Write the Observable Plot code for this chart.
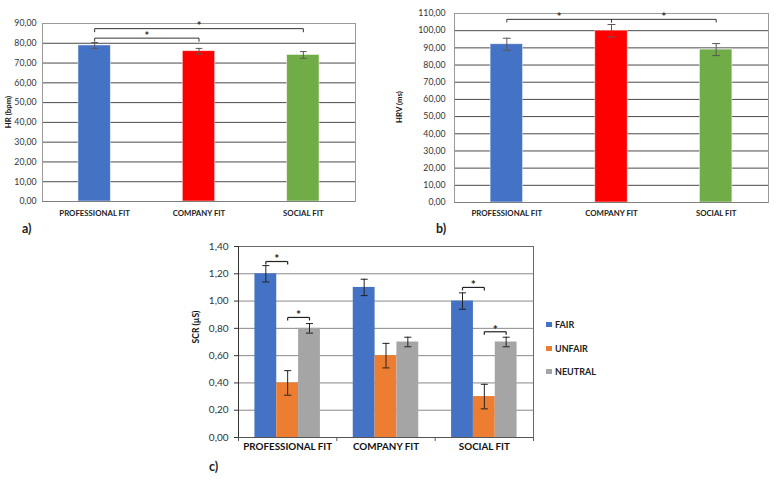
<!DOCTYPE html>
<html><head><meta charset="utf-8">
<script src="https://cdn.jsdelivr.net/npm/d3@7"></script>
<script src="https://cdn.jsdelivr.net/npm/@observablehq/plot@0.6"></script>
<style>
body{margin:0;background:#fff;font-family:Lato,"Open Sans",sans-serif;}
#root{position:relative;width:777px;height:480px;overflow:hidden;background:#fff;}
#root svg{position:absolute;}
.ytitle{position:absolute;font-weight:bold;color:#111;transform:translate(-50%,-50%) rotate(-90deg);white-space:nowrap;line-height:1;}
.plabel{position:absolute;font-weight:bold;font-size:12.5px;color:#222;line-height:1;}
.leg{position:absolute;font-weight:bold;font-size:9px;color:#222;line-height:1;white-space:nowrap;}
.leg span{display:inline-block;width:6px;height:5px;margin-right:3px;vertical-align:1px;}
</style></head><body><div id="root"></div>
<script>
// ---- data ----
const fitCategories = ["PROFESSIONAL FIT", "COMPANY FIT", "SOCIAL FIT"];
const fitColors = ["#4472C4", "#FF0000", "#70AD47"];

const hrValues = [78.9, 76.0, 74.1];
const hrErrors = [1.5, 1.4, 1.7];
const hrTicks = [0, 10, 20, 30, 40, 50, 60, 70, 80, 90];
const hrBrackets = [{from: 0, to: 2, level: 87.4}, {from: 0, to: 1, level: 82.6}];

const hrvValues = [92.1, 100.0, 89.0];
const hrvErrors = [3.5, 3.6, 3.5];
const hrvTicks = [0, 10, 20, 30, 40, 50, 60, 70, 80, 90, 100, 110];
const hrvBrackets = [{from: 0, to: 1, level: 106.6}, {from: 1, to: 2, level: 106.6}];

const conditions = ["FAIR", "UNFAIR", "NEUTRAL"];
const conditionColors = ["#4472C4", "#ED7D31", "#A5A5A5"];
const scrFair = [1.20, 1.10, 1.00];
const scrFairErr = [0.06, 0.06, 0.06];
const scrUnfair = [0.40, 0.60, 0.30];
const scrUnfairErr = [0.09, 0.09, 0.09];
const scrNeutral = [0.80, 0.70, 0.70];
const scrNeutralErr = [0.035, 0.035, 0.035];
const scrTicks = [0, 0.2, 0.4, 0.6, 0.8, 1.0, 1.2, 1.4];
const scrBrackets = [
  {group: 0, from: 0, to: 1, level: 1.29},
  {group: 0, from: 1, to: 2, level: 0.88},
  {group: 2, from: 0, to: 1, level: 1.10},
  {group: 2, from: 1, to: 2, level: 0.775}
];

// ---- helpers ----
const fmt = v => d3.format(".2f")(v).replace(".", ",");
const root = document.getElementById("root");

function place(el, left, top) { el.style.left = left + "px"; el.style.top = top + "px"; root.appendChild(el); return el; }
function div(cls, text, left, top, extra = {}) {
  const d = document.createElement("div"); d.className = cls; d.textContent = text;
  Object.assign(d.style, extra); return place(d, left, top);
}

function barPanel(o) {
  const rows = fitCategories.map((c, i) => ({i, v: o.values[i], lo: o.values[i] - o.errors[i], hi: o.values[i] + o.errors[i], color: fitColors[i]}));
  const caps = rows.flatMap(d => [{i: d.i, y: d.lo}, {i: d.i, y: d.hi}]);
  const half = (1 - o.barFrac) / 2;
  const ends = o.brackets.flatMap(b => [{x: b.from + 0.5, level: b.level}, {x: b.to + 0.5, level: b.level}]);
  return Plot.plot({
    width: o.width, height: o.height,
    marginLeft: o.mL, marginRight: o.mR, marginTop: o.mT, marginBottom: o.mB,
    style: {fontFamily: "Lato", background: "transparent", overflow: "visible"},
    x: {domain: [0, 3], axis: null},
    y: {domain: [0, o.yMax], axis: null},
    color: {type: "identity"},
    marks: [
      Plot.ruleY(o.ticks, {stroke: "#4a4a4a", strokeWidth: 1}),
      Plot.rectY(rows, {x1: d => d.i + half, x2: d => d.i + 1 - half, y1: 0, y2: "v", fill: "color", stroke: "#ffffff", strokeOpacity: 0.6, strokeWidth: 0.8}),
      Plot.frame({stroke: "#9a9a9a"}),
      Plot.ruleY([0], {stroke: "#7f7f7f"}),
      Plot.ruleX(rows, {x: d => d.i + 0.5, y1: "lo", y2: "hi", stroke: "#5a5a5a", strokeWidth: 1}),
      Plot.link(caps, {x1: d => d.i + 0.5 - o.cap, x2: d => d.i + 0.5 + o.cap, y1: "y", y2: "y", stroke: "#5a5a5a"}),
      Plot.link(o.brackets, {x1: d => d.from + 0.5, x2: d => d.to + 0.5, y1: "level", y2: "level", stroke: "#333", strokeWidth: 1}),
      Plot.link(ends, {x1: "x", x2: "x", y1: "level", y2: d => d.level - o.drop, stroke: "#333", strokeWidth: 1}),
      Plot.text(o.brackets, {x: d => (d.from + d.to) / 2 + 0.5, y: "level", text: () => "*", dy: -2, fontSize: 11, fontWeight: "bold", fill: "#333"}),
      Plot.axisY(o.ticks, {tickSize: 0, tickPadding: o.yPad, tickFormat: fmt, fontSize: o.yFont, color: "#333", label: null}),
      Plot.axisX([0.5, 1.5, 2.5], {tickSize: 0, tickPadding: o.xPad, tickFormat: v => fitCategories[Math.floor(v)], fontSize: o.xFont, fontWeight: "bold", color: "#222", label: null})
    ]
  });
}

// ---- panel a ----
const svgA = barPanel({values: hrValues, errors: hrErrors, ticks: hrTicks, yMax: 90, brackets: hrBrackets,
  width: 385, height: 222, mL: 42, mR: 30, mT: 23, mB: 21, barFrac: 0.31, cap: 0.032, drop: 1.8,
  yPad: 6, yFont: 8.7, xPad: 9, xFont: 7.8});
place(svgA, 0, 0);
div("ytitle", "HR (bpm)", 9, 112, {fontSize: "7.8px"});
div("plabel", "a)", 22, 223);

// ---- panel b ----
const svgB = barPanel({values: hrvValues, errors: hrvErrors, ticks: hrvTicks, yMax: 110, brackets: hrvBrackets,
  width: 387, height: 222, mL: 64, mR: 9, mT: 13, mB: 20, barFrac: 0.31, cap: 0.038, drop: 1.8,
  yPad: 9, yFont: 8.7, xPad: 8, xFont: 7.8});
place(svgB, 390, 0);
div("ytitle", "HRV (ms)", 400, 107, {fontSize: "7.8px"});
div("plabel", "b)", 436, 223);

// ---- panel c ----
const scrValues = [scrFair, scrUnfair, scrNeutral];
const scrErrors = [scrFairErr, scrUnfairErr, scrNeutralErr];
const groupPad = 0.167, barW = 0.222;
const cx = (g, c) => g + groupPad + (c + 0.5) * barW;
const scrRows = fitCategories.flatMap((g, gi) => conditions.map((c, ci) => ({
  gi, ci, v: scrValues[ci][gi], lo: scrValues[ci][gi] - scrErrors[ci][gi], hi: scrValues[ci][gi] + scrErrors[ci][gi], color: conditionColors[ci]
})));
const scrCaps = scrRows.flatMap(d => [{gi: d.gi, ci: d.ci, y: d.lo}, {gi: d.gi, ci: d.ci, y: d.hi}]);
const scrEnds = scrBrackets.flatMap(b => [{x: cx(b.group, b.from), level: b.level}, {x: cx(b.group, b.to), level: b.level}]);
const svgC = Plot.plot({
  width: 340, height: 226, marginLeft: 38, marginRight: 7, marginTop: 12, marginBottom: 23,
  style: {fontFamily: "Lato", background: "transparent", overflow: "visible"},
  x: {domain: [0, 3], axis: null},
  y: {domain: [0, 1.4], axis: null},
  color: {type: "identity"},
  marks: [
    Plot.ruleY(scrTicks, {stroke: "#8a8a8a", strokeWidth: 1}),
    Plot.rectY(scrRows, {x1: d => d.gi + groupPad + d.ci * barW, x2: d => d.gi + groupPad + (d.ci + 1) * barW, y1: 0, y2: "v", fill: "color"}),
    Plot.frame({stroke: "#6a6a6a"}),
    Plot.ruleX([0], {stroke: "#333"}),
    Plot.ruleY([0], {stroke: "#555"}),
    Plot.ruleX(scrRows, {x: d => cx(d.gi, d.ci), y1: "lo", y2: "hi", stroke: "#222", strokeWidth: 1}),
    Plot.link(scrCaps, {x1: d => cx(d.gi, d.ci) - 0.036, x2: d => cx(d.gi, d.ci) + 0.036, y1: "y", y2: "y", stroke: "#222"}),
    Plot.link(scrBrackets, {x1: d => cx(d.group, d.from), x2: d => cx(d.group, d.to), y1: "level", y2: "level", stroke: "#222", strokeWidth: 1.2}),
    Plot.link(scrEnds, {x1: "x", x2: "x", y1: "level", y2: d => d.level - 0.022, stroke: "#222", strokeWidth: 1.2}),
    Plot.text(scrBrackets, {x: d => (cx(d.group, d.from) + cx(d.group, d.to)) / 2, y: "level", text: () => "*", dy: -2, fontSize: 12, fontWeight: "bold", fill: "#222"}),
    Plot.axisY(scrTicks, {tickSize: 4, tickPadding: 6, tickFormat: fmt, fontSize: 10, color: "#333", label: null}),
    Plot.axisX([0, 1, 2, 3], {tickSize: 4, tickFormat: () => "", color: "#555", label: null}),
    Plot.axisX([0.5, 1.5, 2.5], {tickSize: 0, tickPadding: 6, tickFormat: v => fitCategories[Math.floor(v)], fontSize: 9.8, fontWeight: "bold", color: "#111", label: null})
  ]
});
place(svgC, 200, 234);
div("ytitle", "SCR (µS)", 196, 327, {fontSize: "8.5px"});
div("plabel", "c)", 209, 461);

// legend
conditions.forEach((c, i) => {
  const d = document.createElement("div"); d.className = "leg";
  const sw = document.createElement("span"); sw.style.background = conditionColors[i];
  d.appendChild(sw); d.appendChild(document.createTextNode(c));
  place(d, 546, [320, 344, 367][i]);
});
</script></body></html>
